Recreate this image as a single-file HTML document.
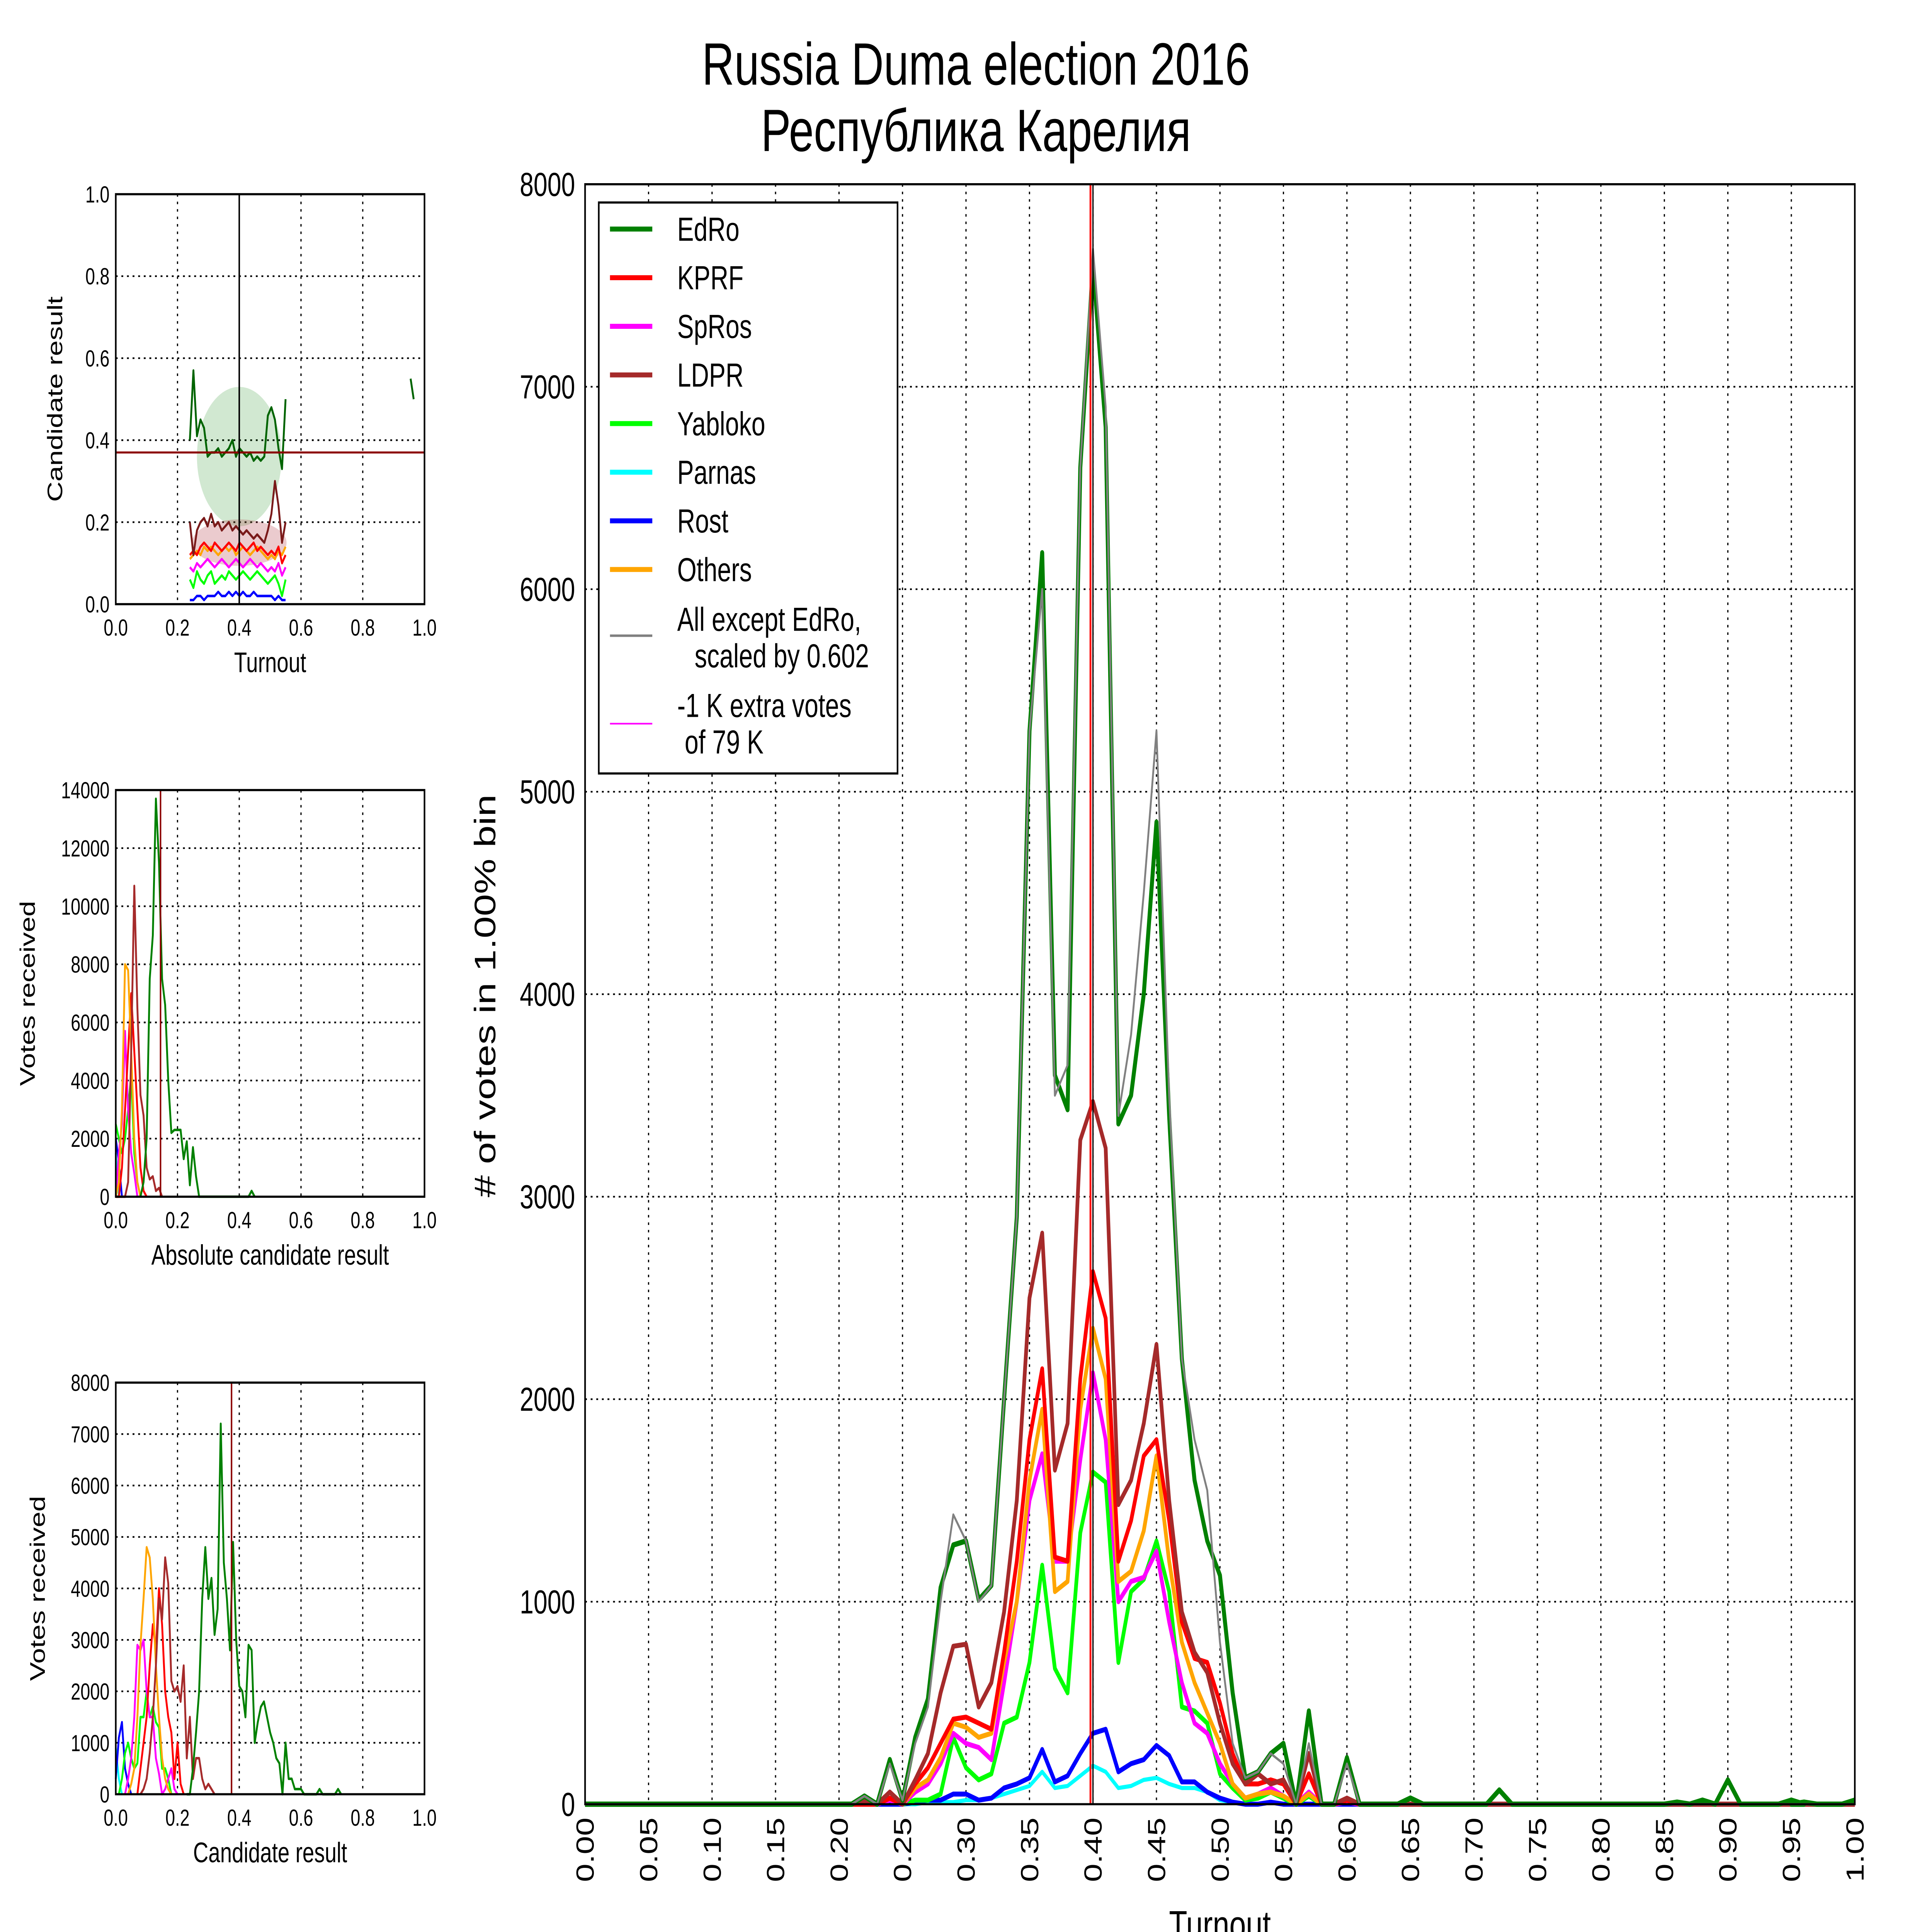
<!DOCTYPE html>
<html><head><meta charset="utf-8"><style>
html,body{margin:0;padding:0;background:#fff;overflow:hidden;width:100%;height:100%}
svg{display:block;width:100vw;height:100vh}
text{font-family:"Liberation Sans","DejaVu Sans",sans-serif;fill:#000}
</style></head><body>
<svg id="fig" xmlns="http://www.w3.org/2000/svg" viewBox="0 0 1552 1164" preserveAspectRatio="none">
<rect x="0" y="0" width="1552" height="1164" fill="#fff"/>
<text x="784" y="51" font-size="36" text-anchor="middle">Russia Duma election 2016</text>
<text x="784" y="91" font-size="36" text-anchor="middle" style="font-family:'Liberation Sans','Noto Sans CJK SC',sans-serif">Республика Карелия</text>
<g id="main"></g>
<g id="p1"></g>
<g id="p2"></g>
<g id="p3"></g>
</svg>
<script>
// ---------- main chart data (bins 0.20..0.60 step 0.01) ----------
const mainStart = 0.20;
const mainEdRo   = [0,0,40,0,220,20,330,520,1070,1280,1300,1010,1080,2000,2900,5300,6180,3600,3430,6600,7600,6800,3360,3500,4000,4850,3400,2200,1600,1300,1130,550,130,160,250,300,0,460,0,0,230];
const mainGray   = [0,0,40,0,200,20,300,480,1000,1430,1300,1000,1080,2000,2900,5300,6000,3500,3650,6600,7680,6900,3400,3800,4500,5300,3500,2200,1800,1550,800,300,130,160,250,200,0,300,0,0,200];
const mainKPRF   = [0,0,0,0,30,0,100,180,300,420,430,400,370,750,1200,1800,2150,1220,1200,2100,2630,2400,1200,1400,1720,1800,1400,900,720,700,500,250,100,100,120,100,0,150,0,0,20];
const mainSpRos  = [0,0,0,0,20,0,60,100,200,350,300,280,220,600,1000,1500,1730,1200,1200,1700,2130,1800,1000,1100,1120,1250,900,600,400,350,200,100,30,50,80,40,0,60,0,0,10];
const mainLDPR   = [0,0,20,0,60,0,120,250,550,780,790,480,600,950,1500,2500,2820,1650,1880,3280,3470,3240,1480,1600,1880,2270,1500,950,750,650,400,200,100,150,100,120,0,250,0,0,30];
const mainYabl   = [0,0,0,0,20,0,20,20,50,330,180,120,150,400,430,700,1180,670,550,1340,1640,1590,700,1050,1110,1300,1050,480,460,400,150,80,20,30,60,30,0,40,0,0,10];
const mainParnas = [0,0,0,0,0,0,0,10,10,10,20,20,30,50,70,90,160,80,90,140,190,160,80,90,120,130,100,80,80,60,20,10,0,0,10,0,0,0,0,0,0];
const mainRost   = [0,0,0,0,0,0,10,20,20,50,50,20,30,80,100,130,270,110,140,250,350,370,160,200,220,290,240,110,110,60,30,10,0,0,10,0,0,0,0,0,0];
const mainOthers = [0,0,0,0,30,0,80,120,230,400,380,330,350,700,1000,1600,1950,1050,1100,1950,2350,2100,1100,1150,1350,1720,1200,800,600,450,300,100,30,50,60,40,0,50,0,0,20];
const tailX = [0.65,0.72,0.86,0.88,0.90,0.95,0.96,1.00];
const tailEdRo = [30,70,10,20,120,20,10,20];
const mainTicksY = [0,1000,2000,3000,4000,5000,6000,7000,8000];
const mainVLine = 0.40;

// ---------- panel 1 (scatter) ----------
const p1Start = 0.24;
const p1EdRo   = [0.40,0.57,0.41,0.45,0.43,0.36,0.37,0.37,0.38,0.36,0.37,0.38,0.40,0.36,0.38,0.37,0.36,0.37,0.35,0.36,0.35,0.36,0.46,0.48,0.45,0.38,0.33,0.50];
const p1LDPR   = [0.20,0.12,0.18,0.20,0.21,0.19,0.22,0.19,0.20,0.18,0.19,0.20,0.18,0.19,0.18,0.17,0.18,0.17,0.16,0.17,0.16,0.15,0.18,0.22,0.30,0.24,0.15,0.20];
const p1KPRF   = [0.12,0.13,0.12,0.14,0.15,0.14,0.13,0.15,0.14,0.13,0.14,0.15,0.14,0.13,0.15,0.14,0.13,0.14,0.15,0.13,0.14,0.13,0.12,0.13,0.12,0.14,0.10,0.12];
const p1Others = [0.11,0.12,0.13,0.12,0.14,0.13,0.14,0.13,0.12,0.13,0.14,0.13,0.14,0.12,0.13,0.14,0.13,0.12,0.13,0.14,0.13,0.12,0.11,0.12,0.11,0.13,0.12,0.14];
const p1SpRos  = [0.09,0.08,0.10,0.09,0.10,0.11,0.10,0.09,0.10,0.11,0.10,0.09,0.10,0.11,0.10,0.09,0.10,0.11,0.10,0.09,0.10,0.09,0.08,0.09,0.08,0.10,0.07,0.09];
const p1Yabl   = [0.06,0.04,0.08,0.06,0.05,0.07,0.08,0.05,0.06,0.07,0.06,0.08,0.07,0.06,0.07,0.08,0.07,0.06,0.07,0.08,0.07,0.06,0.05,0.06,0.07,0.05,0.02,0.06];
const p1Rost   = [0.01,0.01,0.02,0.02,0.01,0.02,0.02,0.02,0.03,0.02,0.02,0.03,0.02,0.03,0.02,0.03,0.02,0.02,0.03,0.02,0.02,0.02,0.02,0.02,0.01,0.02,0.01,0.01];
const p1HLine = 0.37;
const p1VLine = 0.40;

// ---------- panel 2 (absolute result) ----------
const p2EdRoStart = 0.08;
const p2EdRo   = [0,500,2000,7500,9000,13700,11500,7500,6600,4000,2200,2300,2300,2300,1300,1900,400,1700,700,0,0,0,0,0,0,0,0,0,0,0,0,0,0,0,0,0,200,0];
const p2LDPR   = [0,0,0,0,500,5000,10700,6500,3500,2800,1000,600,700,200,300,0];
const p2Others = [0,500,3000,8000,7800,5000,2000,500,0];
const p2KPRF   = [0,0,1000,3000,5000,7000,5000,3000,1000,200,0];
const p2SpRos  = [0,1500,2500,5700,3000,1500,800,0];
const p2Yabl   = [2500,2000,1500,2000,3000,4200,1500,500,0];
const p2Rost   = [2000,1200,0];
const p2Parnas = [1500,0];
const p2VLine = 0.145;

// ---------- panel 3 (candidate result) ----------
const p3EdRoStart = 0.23;
const p3EdRo   = [0,0,500,1200,2000,3800,4800,3800,4200,3100,3600,7200,4500,3800,2800,4900,3000,2100,2000,1500,2900,2800,1000,1400,1700,1800,1500,1200,1000,700,600,0,1000,300,300,100,100,100,0,0,0,0,0,100,0,0,0,0,0,100,0];
const p3LDPRStart = 0.08;
const p3LDPR   = [0,100,300,800,1500,2500,3800,3400,4600,4100,2200,2000,2100,1800,2500,700,1500,300,700,700,300,100,200,100,0];
const p3OthersStart = 0.04;
const p3Others = [0,200,500,1500,2900,3800,4800,4600,3800,2500,1500,700,300,100,0];
const p3KPRFStart = 0.07;
const p3KPRF   = [0,500,1000,1500,2500,3300,2800,4000,3300,2000,1500,1200,300,1000,200,0];
const p3SpRosStart = 0.03;
const p3SpRos  = [0,300,700,1500,2900,2800,3000,2000,1500,1500,700,400,0,100,300,500,100,0];
const p3YablStart = 0.01;
const p3Yabl   = [0,300,800,1000,700,500,600,1500,1500,2000,1500,1700,1400,1300,500,500,300,0];
const p3Rost   = [300,1100,1400,500,200,0];
const p3Parnas = [900,300,0];
const p3VLine = 0.375;

const C = {EdRo:'#008000',KPRF:'#ff0000',SpRos:'#ff00ff',LDPR:'#a52a2a',Yabl:'#00ff00',Parnas:'#00ffff',Rost:'#0000ff',Others:'#ffa500',Gray:'#808080'};
const NS='http://www.w3.org/2000/svg';
function mk(tag, attrs, parent){const e=document.createElementNS(NS,tag);for(const k in attrs)e.setAttribute(k,attrs[k]);parent.appendChild(e);return e;}

function gridAndFrame(g,sx,sy,x0,x1,y0,y1,xt,yt){
  xt.forEach(v=>{const l=mk('line',{x1:sx(v),x2:sx(v),y1:y0,y2:y1,stroke:'#000','stroke-width':1,'stroke-dasharray':'1.5,3'},g);
    
    });
  yt.forEach(v=>{const l=mk('line',{x1:x0,x2:x1,y1:sy(v),y2:sy(v),stroke:'#000','stroke-width':1,'stroke-dasharray':'1.5,3'},g);
    
    });
}
function frame(g,x0,x1,y0,y1){
  const r=mk('rect',{x:x0,y:y0,width:x1-x0,height:y1-y0,fill:'none',stroke:'#000','stroke-width':1.3},g);
  
  
}
function line(g,sx,sy,start,step,vals,color,w,name){
  const pts=vals.map((v,i)=>sx(start+i*step).toFixed(2)+','+sy(v).toFixed(2)).join(' ');
  const p=mk('polyline',{points:pts,fill:'none',stroke:color,'stroke-width':w,'stroke-linejoin':'round'},g);
  
  
  return p;
}
function txt(g,x,y,s,fs,anchor,name,extra){
  const t=mk('text',Object.assign({x:x,y:y,'font-size':fs,'text-anchor':anchor||'middle'},extra||{}),g);
  t.textContent=s;
  
  
  return t;
}

// ===== MAIN =====
(function(){
  const g=document.getElementById('main');
  const x0=470,x1=1490,y0=111,y1=1087;
  const sx=v=>x0+(x1-x0)*v, sy=v=>y1-(y1-y0)*v/8000;
  const xt=[];for(let i=0;i<=20;i++)xt.push(i*0.05);
  gridAndFrame(g,sx,sy,x0,x1,y0,y1,xt,mainTicksY);
  function series(vals,color,w,name,tail){
    const all=[[0,0],[mainStart,0]];
    vals.forEach((v,i)=>all.push([mainStart+i*0.01,v]));
    const last=mainStart+(vals.length-1)*0.01;
    all.push([last+0.01,0]);
    if(tail){tailX.forEach((x,i)=>{all.push([x-0.01,0]);all.push([x,tail[i]]);if(x<0.995)all.push([x+0.01,0]);});}
    else all.push([1.0,0]);
    const pts=all.filter(p=>p[0]<=1.0001).map(p=>sx(p[0]).toFixed(2)+','+sy(p[1]).toFixed(2)).join(' ');
    const p=mk('polyline',{points:pts,fill:'none',stroke:color,'stroke-width':w,'stroke-linejoin':'round'},g);
    
    
  }
  series(mainParnas,C.Parnas,2.5,'parnas-line');
  series(mainRost,C.Rost,3,'rost-line');
  series(mainYabl,C.Yabl,3,'yabloko-line');
  series(mainSpRos,C.SpRos,3,'spros-line');
  series(mainOthers,C.Others,3,'others-line');
  series(mainKPRF,C.KPRF,3,'kprf-line');
  series(mainLDPR,C.LDPR,3,'ldpr-line');
  series(mainEdRo,C.EdRo,3.2,'edro-line',tailEdRo);
  series(mainGray,C.Gray,1.5,'all-except-edro-scaled-line');
  let v=mk('line',{x1:sx(mainVLine)-2,x2:sx(mainVLine)-2,y1:y0,y2:y1,stroke:'#ff0000','stroke-width':1.5},g);
  
  
  v=mk('line',{x1:sx(mainVLine),x2:sx(mainVLine),y1:y0,y2:y1,stroke:'#000','stroke-width':1},g);
  
  
  frame(g,x0,x1,y0,y1);
  mainTicksY.forEach(t=>txt(g,x0-8,sy(t)+7,String(t),20,'end','y-tick-label'));
  xt.forEach(t=>txt(g,0,0,t.toFixed(2),20,'end','x-tick-label',{transform:`translate(${sx(t)+7},${y1+8}) rotate(-90)`}));
  txt(g,980,1168,'Turnout',24,'middle','x-axis-title');
  txt(g,0,0,'# of votes in 1.00% bin',24,'middle','y-axis-title',{transform:'translate(398,600) rotate(-90)'});
  const lg=mk('g',{},g);
  
  
  const r=mk('rect',{x:481,y:122,width:240,height:344,fill:'#fff',stroke:'#000','stroke-width':1.3},lg);
  
  
  const ent=[['EdRo',C.EdRo,3],['KPRF',C.KPRF,3],['SpRos',C.SpRos,3],['LDPR',C.LDPR,3],['Yabloko',C.Yabl,3],['Parnas',C.Parnas,3],['Rost',C.Rost,3],['Others',C.Others,3]];
  ent.forEach((e,i)=>{const y=138+i*29.3;
    const l=mk('line',{x1:490,x2:524,y1:y,y2:y,stroke:e[1],'stroke-width':e[2]},lg);
    
    
    txt(lg,544,y+7,e[0],20,'start','legend-entry');});
  let l=mk('line',{x1:490,x2:524,y1:383,y2:383,stroke:C.Gray,'stroke-width':1.5},lg);
  
  
  txt(lg,544,380,'All except EdRo,',20,'start','legend-entry');
  txt(lg,558,402,'scaled by 0.602',20,'start','legend-entry');
  l=mk('line',{x1:490,x2:524,y1:436,y2:436,stroke:'#ff00ff','stroke-width':1},lg);
  
  
  txt(lg,544,432,'-1 K extra votes',20,'start','legend-entry');
  txt(lg,550,454,' of 79 K',20,'start','legend-entry');
})();

function smallAxes(g,y0,y1,ymax,yt){
  const x0=93,x1=341;
  const sx=v=>x0+(x1-x0)*v, sy=v=>y1-(y1-y0)*v/ymax;
  const xt=[0,0.2,0.4,0.6,0.8,1.0];
  gridAndFrame(g,sx,sy,x0,x1,y0,y1,xt,yt);
  return {sx,sy,x0,x1,y0,y1,xt,yt};
}
function smallLabels(g,a,fmtY,xlabel,ylabel,ylx){
  frame(g,a.x0,a.x1,a.y0,a.y1);
  a.yt.forEach(t=>txt(g,a.x0-5,a.sy(t)+5,fmtY(t),14,'end','y-tick-label'));
  a.xt.forEach(t=>txt(g,a.sx(t),a.y1+19,t.toFixed(1),14,'middle','x-tick-label'));
  txt(g,(a.x0+a.x1)/2,a.y1+41,xlabel,17,'middle','x-axis-title');
  txt(g,0,0,ylabel,17,'middle','y-axis-title',{transform:`translate(${ylx},${(a.y0+a.y1)/2}) rotate(-90)`});
}

// ===== PANEL 1 =====
(function(){
  const g=document.getElementById('p1');
  const a=smallAxes(g,117,364,1.0,[0,0.2,0.4,0.6,0.8,1.0]);
  const cl=mk('ellipse',{cx:a.sx(0.40),cy:a.sy(0.36),rx:34,ry:42,fill:'#008000','fill-opacity':0.18},g);
  
  
  const c2=mk('ellipse',{cx:a.sx(0.40),cy:a.sy(0.15),rx:38,ry:14,fill:'#b0303a','fill-opacity':0.25},g);
  
  
  const st=(0.55-p1Start)/(p1EdRo.length-1);
  line(g,a.sx,a.sy,p1Start,st,p1Rost,C.Rost,1.5,'rost-line');
  line(g,a.sx,a.sy,p1Start,st,p1Yabl,C.Yabl,1.5,'yabloko-line');
  line(g,a.sx,a.sy,p1Start,st,p1SpRos,C.SpRos,1.5,'spros-line');
  line(g,a.sx,a.sy,p1Start,st,p1Others,C.Others,1.5,'others-line');
  line(g,a.sx,a.sy,p1Start,st,p1KPRF,C.KPRF,1.5,'kprf-line');
  line(g,a.sx,a.sy,p1Start,st,p1LDPR,'#7a1a1a',1.5,'ldpr-line');
  line(g,a.sx,a.sy,p1Start,st,p1EdRo,'#006400',1.5,'edro-line');
  line(g,a.sx,a.sy,0.955,0.01,[0.55,0.50],'#006400',1.5,'edro-tail-line');
  let h=mk('line',{x1:a.x0,x2:a.x1,y1:a.sy(p1HLine),y2:a.sy(p1HLine),stroke:'#8b0000','stroke-width':1.2},g);
  
  
  h=mk('line',{x1:a.sx(p1VLine),x2:a.sx(p1VLine),y1:a.y0,y2:a.y1,stroke:'#000','stroke-width':1.2},g);
  
  
  smallLabels(g,a,t=>t.toFixed(1),'Turnout','Candidate result',50);
})();

// ===== PANEL 2 =====
(function(){
  const g=document.getElementById('p2');
  const a=smallAxes(g,476,721,14000,[0,2000,4000,6000,8000,10000,12000,14000]);
  line(g,a.sx,a.sy,0,0.01,p2Parnas,C.Parnas,1.5,'parnas-line');
  line(g,a.sx,a.sy,0,0.01,p2Rost,C.Rost,1.5,'rost-line');
  line(g,a.sx,a.sy,0,0.01,p2Yabl,C.Yabl,1.5,'yabloko-line');
  line(g,a.sx,a.sy,0,0.01,p2SpRos,C.SpRos,1.5,'spros-line');
  line(g,a.sx,a.sy,0,0.01,p2KPRF,C.KPRF,1.5,'kprf-line');
  line(g,a.sx,a.sy,0,0.01,p2Others,C.Others,1.5,'others-line');
  line(g,a.sx,a.sy,0,0.01,p2LDPR,C.LDPR,1.5,'ldpr-line');
  line(g,a.sx,a.sy,p2EdRoStart,0.01,p2EdRo,C.EdRo,1.5,'edro-line');
  const v=mk('line',{x1:a.sx(p2VLine),x2:a.sx(p2VLine),y1:a.y0,y2:a.y1,stroke:'#8b0000','stroke-width':1.2},g);
  
  
  smallLabels(g,a,t=>String(t),'Absolute candidate result','Votes received',28);
})();

// ===== PANEL 3 =====
(function(){
  const g=document.getElementById('p3');
  const a=smallAxes(g,833,1081,8000,[0,1000,2000,3000,4000,5000,6000,7000,8000]);
  line(g,a.sx,a.sy,0,0.01,p3Parnas,C.Parnas,1.5,'parnas-line');
  line(g,a.sx,a.sy,0,0.01,p3Rost,C.Rost,1.5,'rost-line');
  line(g,a.sx,a.sy,p3YablStart,0.01,p3Yabl,C.Yabl,1.5,'yabloko-line');
  line(g,a.sx,a.sy,p3SpRosStart,0.01,p3SpRos,C.SpRos,1.5,'spros-line');
  line(g,a.sx,a.sy,p3KPRFStart,0.01,p3KPRF,C.KPRF,1.5,'kprf-line');
  line(g,a.sx,a.sy,p3OthersStart,0.01,p3Others,C.Others,1.5,'others-line');
  line(g,a.sx,a.sy,p3LDPRStart,0.01,p3LDPR,C.LDPR,1.5,'ldpr-line');
  line(g,a.sx,a.sy,p3EdRoStart,0.01,p3EdRo,C.EdRo,1.5,'edro-line');
  const v=mk('line',{x1:a.sx(p3VLine),x2:a.sx(p3VLine),y1:a.y0,y2:a.y1,stroke:'#8b0000','stroke-width':1.2},g);
  
  
  smallLabels(g,a,t=>String(t),'Candidate result','Votes received',36);
})();
</script>
</body></html>
